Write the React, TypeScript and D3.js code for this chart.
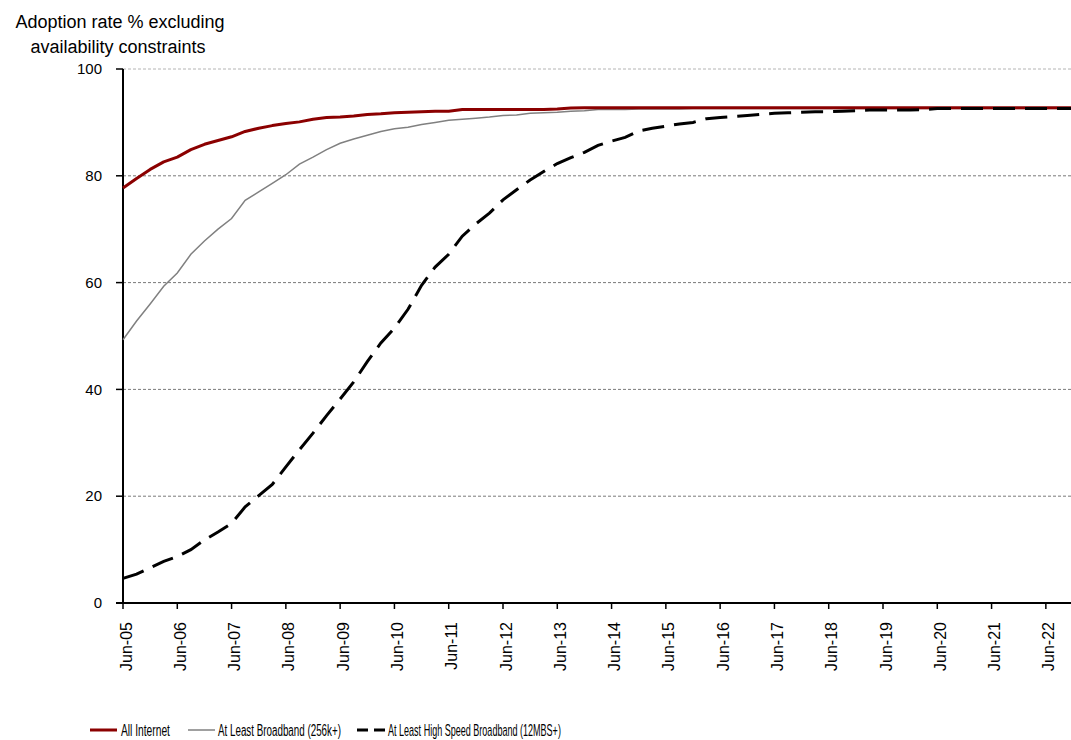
import * as d3 from 'd3';
import { useEffect, useRef } from 'react';

// quarterly observations, Jun-05 .. Dec-22
const allInternet = [
  77.7, 79.5, 81.2, 82.6, 83.5, 84.9, 85.9, 86.6, 87.3, 88.3, 88.9, 89.4, 89.8, 90.1, 90.6, 90.9,
  91.0, 91.2, 91.5, 91.6, 91.8, 91.9, 92.0, 92.1, 92.1, 92.4, 92.4, 92.4, 92.4, 92.4, 92.4, 92.4,
  92.5, 92.7, 92.75, 92.75, 92.75, 92.75, 92.75, 92.75, 92.75, 92.75, 92.75, 92.75, 92.75, 92.75,
  92.75, 92.75, 92.75, 92.75, 92.75, 92.75, 92.75, 92.75, 92.75, 92.75, 92.75, 92.75, 92.75, 92.75,
  92.75, 92.75, 92.75, 92.75, 92.75, 92.75, 92.75, 92.75, 92.75, 92.75, 92.75,
];

const broadband = [
  49.3, 52.8, 56.0, 59.3, 61.8, 65.3, 67.8, 70.0, 72.0, 75.4, 77.0, 78.6, 80.2, 82.2, 83.5, 84.9,
  86.1, 86.9, 87.6, 88.3, 88.8, 89.1, 89.6, 90.0, 90.4, 90.6, 90.8, 91.0, 91.3, 91.4, 91.7, 91.8,
  91.9, 92.1, 92.2, 92.4, 92.4, 92.4, 92.5, 92.5, 92.5, 92.5, 92.6, 92.6, 92.6, 92.6, 92.6, 92.6,
  92.6, 92.6, 92.6, 92.6, 92.6, 92.6, 92.6, 92.6, 92.6, 92.6, 92.6, 92.6, 92.6, 92.6, 92.6, 92.6,
  92.6, 92.6, 92.6, 92.6, 92.6, 92.6, 92.6,
];

const highSpeed = [
  4.6, 5.4, 6.6, 7.8, 8.7, 10.0, 11.8, 13.3, 14.9, 18.0, 20.1, 22.2, 25.5, 28.7, 31.8, 35.1,
  38.2, 41.4, 45.2, 48.7, 51.5, 55.0, 59.5, 62.9, 65.3, 68.7, 71.0, 73.0, 75.5, 77.4, 79.2, 80.8,
  82.3, 83.4, 84.4, 85.7, 86.5, 87.2, 88.4, 88.9, 89.3, 89.7, 90.0, 90.7, 90.9, 91.1, 91.3, 91.5,
  91.7, 91.8, 91.9, 92.0, 92.0, 92.1, 92.2, 92.3, 92.3, 92.3, 92.3, 92.4, 92.6, 92.6, 92.6, 92.6,
  92.6, 92.6, 92.6, 92.6, 92.6, 92.6, 92.6,
];

const xTickLabels = [
  'Jun-05', 'Jun-06', 'Jun-07', 'Jun-08', 'Jun-09', 'Jun-10', 'Jun-11', 'Jun-12', 'Jun-13',
  'Jun-14', 'Jun-15', 'Jun-16', 'Jun-17', 'Jun-18', 'Jun-19', 'Jun-20', 'Jun-21', 'Jun-22',
];
const yTicks = [0, 20, 40, 60, 80, 100];

const seriesNames = ['All Internet', 'At Least Broadband (256k+)', 'At Least High Speed Broadband (12MBS+)'];

const FONT = "'Liberation Sans', Arial, sans-serif";

const Chart = () => {
  const width = 1071;
  const height = 740;
  const marginLeft = 123;
  const plotRight = 1073; // plot area runs slightly past the picture edge
  const marginTop = 69;
  const plotBottom = 603;

  const ref = useRef<HTMLDivElement>(null);

  useEffect(() => {
    if (!ref.current) return;
    document.body.style.margin = '0';
    document.body.style.overflow = 'hidden';

    const x = d3.scaleLinear().domain([0, allInternet.length - 1]).range([marginLeft, plotRight]);
    const y = d3.scaleLinear().domain([0, 100]).range([plotBottom, marginTop]);

    const svg = d3
      .create('svg')
      .attr('width', width)
      .attr('height', height)
      .style('display', 'block')
      .style('font-family', FONT);

    svg.append('rect').attr('width', width).attr('height', height).attr('fill', '#fff');

    // grid lines
    svg
      .append('g')
      .selectAll('line')
      .data(yTicks.filter((d) => d > 0))
      .join('line')
      .attr('x1', marginLeft)
      .attr('x2', plotRight)
      .attr('y1', (d) => y(d))
      .attr('y2', (d) => y(d))
      .attr('stroke', (d) => (d === 100 ? '#b4b4b4' : '#7a7a7a'))
      .attr('stroke-width', 1)
      .attr('stroke-dasharray', '3 2');

    // title (y-axis caption)
    const title = svg
      .append('text')
      .attr('text-anchor', 'middle')
      .attr('font-size', 18)
      .attr('fill', '#000');
    title.append('tspan').attr('x', 120).attr('y', 28).text('Adoption rate % excluding');
    title.append('tspan').attr('x', 118).attr('y', 53).text('availability constraints');

    // y axis
    const yAxis = svg.append('g');
    yAxis
      .append('line')
      .attr('x1', marginLeft)
      .attr('x2', marginLeft)
      .attr('y1', marginTop)
      .attr('y2', plotBottom)
      .attr('stroke', '#000')
      .attr('stroke-width', 2);
    yAxis
      .selectAll('line.tick')
      .data(yTicks)
      .join('line')
      .attr('class', 'tick')
      .attr('x1', marginLeft - 7)
      .attr('x2', marginLeft)
      .attr('y1', (d) => y(d))
      .attr('y2', (d) => y(d))
      .attr('stroke', '#000')
      .attr('stroke-width', 1.5);
    yAxis
      .selectAll('text')
      .data(yTicks)
      .join('text')
      .attr('x', 102)
      .attr('y', (d) => y(d))
      .attr('dy', '0.35em')
      .attr('text-anchor', 'end')
      .attr('font-size', 15)
      .text((d) => d);

    // x axis
    const xAxis = svg.append('g');
    xAxis
      .append('line')
      .attr('x1', marginLeft - 7)
      .attr('x2', plotRight)
      .attr('y1', plotBottom)
      .attr('y2', plotBottom)
      .attr('stroke', '#000')
      .attr('stroke-width', 2);
    xAxis
      .selectAll('line.tick')
      .data(xTickLabels)
      .join('line')
      .attr('class', 'tick')
      .attr('x1', (_, i) => x(i * 4))
      .attr('x2', (_, i) => x(i * 4))
      .attr('y1', plotBottom)
      .attr('y2', plotBottom + 6)
      .attr('stroke', '#000')
      .attr('stroke-width', 1.5);
    xAxis
      .selectAll('text')
      .data(xTickLabels)
      .join('text')
      .attr('transform', (_, i) => `translate(${x(i * 4) + 3},622) rotate(-90)`)
      .attr('dy', '0.35em')
      .attr('text-anchor', 'end')
      .attr('font-size', 16)
      .text((d) => d);

    const line = d3
      .line<number>()
      .x((_, i) => x(i))
      .y((d) => y(d));

    svg
      .append('path')
      .datum(broadband)
      .attr('fill', 'none')
      .attr('stroke', '#808080')
      .attr('stroke-width', 1.5)
      .attr('d', line);

    svg
      .append('path')
      .datum(allInternet)
      .attr('fill', 'none')
      .attr('stroke', '#8b0000')
      .attr('stroke-width', 3)
      .attr('stroke-linejoin', 'round')
      .attr('d', line);

    svg
      .append('path')
      .datum(highSpeed)
      .attr('fill', 'none')
      .attr('stroke', '#000')
      .attr('stroke-width', 3)
      .attr('stroke-dasharray', '22 10')
      .attr('d', line);

    ref.current.innerHTML = '';
    ref.current.appendChild(svg.node()!);

    // legend (text squeezed horizontally like the original)
    const legend = svg.append('g').attr('font-size', 16);
    const legendItems = [
      { x1: 90, x2: 117, tx: 121, tw: 49, stroke: '#8b0000', sw: 3, dash: null },
      { x1: 188, x2: 215, tx: 218, tw: 123, stroke: '#808080', sw: 1.5, dash: null },
      { x1: 357, x2: 385, tx: 388, tw: 173, stroke: '#000', sw: 3, dash: '11 6' },
    ];
    legendItems.forEach((item, i) => {
      legend
        .append('line')
        .attr('x1', item.x1)
        .attr('x2', item.x2)
        .attr('y1', 730)
        .attr('y2', 730)
        .attr('stroke', item.stroke)
        .attr('stroke-width', item.sw)
        .attr('stroke-dasharray', item.dash);
      const t = legend.append('text').text(seriesNames[i]);
      const natural = (t.node() as SVGTextElement).getComputedTextLength() || item.tw;
      t.attr('transform', `translate(${item.tx},736) scale(${item.tw / natural},1)`);
    });
  }, [ref]);

  return <div ref={ref} style={{ width, height, overflow: 'hidden' }} />;
};

export default function App() {
  return <Chart />;
}
